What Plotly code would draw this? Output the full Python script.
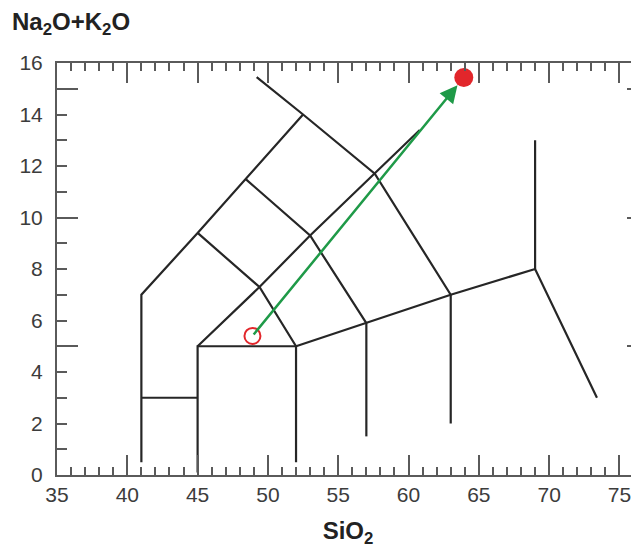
import plotly.graph_objects as go

# ---- TAS boundary polylines (SiO2 wt%, Na2O+K2O wt%) ----
outer_left_x = [41, 41, 45, 48.4, 52.5]
outer_left_y = [0.5, 7, 9.4, 11.5, 14]

phonolite_x = [49.2, 52.5, 57.6, 63, 63]
phonolite_y = [15.45, 14, 11.7, 7, 2]

picro_top_x = [41, 45]
picro_top_y = [3, 3]

basalt_x = [45, 45, 52, 52]
basalt_y = [0.1, 5, 5, 0.5]

alkali_base_x = [52, 57, 63, 69, 73.4]
alkali_base_y = [5, 5.9, 7, 8, 3.0]

andesite_x = [57, 57]
andesite_y = [5.9, 1.5]

diag_x = [45, 49.4, 53, 57.6, 60.8]
diag_y = [5, 7.3, 9.3, 11.7, 13.4]

cross1_x = [45, 49.4, 52]
cross1_y = [9.4, 7.3, 5]

cross2_x = [48.4, 53, 57]
cross2_y = [11.5, 9.3, 5.9]

rhyolite_x = [69, 69]
rhyolite_y = [8, 13]

boundaries = [
    (outer_left_x, outer_left_y), (phonolite_x, phonolite_y),
    (picro_top_x, picro_top_y), (basalt_x, basalt_y),
    (alkali_base_x, alkali_base_y), (andesite_x, andesite_y),
    (diag_x, diag_y), (cross1_x, cross1_y), (cross2_x, cross2_y),
    (rhyolite_x, rhyolite_y),
]

# ---- samples ----
start_sio2 = [48.9]
start_alk = [5.4]
end_sio2 = [63.93]
end_alk = [15.44]

x_tick_vals = [35, 40, 45, 50, 55, 60, 65, 70, 75]
y_tick_vals = [0, 2, 4, 6, 8, 10, 12, 14, 16]
y_long_ticks = [5, 10, 15]

LINE = "#262626"
AXIS = "#5a5a5a"
GREEN = "#1f9a48"
RED = "#e2262b"
LABEL = "#3c3c3c"
FONT = "Arial, Liberation Sans, sans-serif"

fig = go.Figure()
for bx, by in boundaries:
    fig.add_trace(go.Scatter(x=bx, y=by, mode="lines",
                             line=dict(color=LINE, width=2.2),
                             hoverinfo="skip", showlegend=False))

fig.add_trace(go.Scatter(x=start_sio2, y=start_alk, mode="markers",
                         marker=dict(size=16, color="rgba(0,0,0,0)",
                                     line=dict(color=RED, width=2)),
                         showlegend=False))
fig.add_trace(go.Scatter(x=end_sio2, y=end_alk, mode="markers",
                         marker=dict(size=19, color=RED, line=dict(width=0)),
                         showlegend=False))
# dummy traces to activate the extra tick axes
fig.add_trace(go.Scatter(x=[None], y=[None], yaxis="y2", showlegend=False, hoverinfo="skip"))
fig.add_trace(go.Scatter(x=[None], y=[None], yaxis="y3", showlegend=False, hoverinfo="skip"))

fig.add_annotation(x=end_sio2[0], y=end_alk[0], ax=start_sio2[0], ay=start_alk[0],
                   xref="x", yref="y", axref="x", ayref="y",
                   showarrow=True, arrowhead=2, arrowsize=1.4, arrowwidth=2.5,
                   arrowcolor=GREEN, standoff=10, text="")

# page body has an 8px margin, so the figure is sized/placed to compensate
W, H = 631, 540
fig.update_layout(
    width=W, height=H,
    margin=dict(l=49, r=0, t=55, b=73, autoexpand=False),
    paper_bgcolor="white", plot_bgcolor="white",
    font=dict(family=FONT, color=LABEL, size=21),
    title=dict(text="<b>Na<sub>2</sub>O+K<sub>2</sub>O</b>", x=4/W, xanchor="left",
               xref="container", yref="container", y=1 - 14/H, yanchor="middle",
               font=dict(family=FONT, size=24, color="#222222")),
    xaxis=dict(range=[35, 76.39], showline=True, linecolor=AXIS, linewidth=2,
               mirror="ticks", ticks="inside", tickmode="array", tickvals=x_tick_vals,
               ticklen=20, tickwidth=2, tickcolor=AXIS, automargin=False,
               minor=dict(dtick=1, tick0=35, ticks="inside", ticklen=8, tickwidth=2, tickcolor=AXIS),
               showgrid=False, zeroline=False,
               tickfont=dict(size=21, color=LABEL),
               title=dict(text="<b>SiO<sub>2</sub></b>", font=dict(size=24, color="#222222"),
                          standoff=18)),
    yaxis=dict(range=[0, 16], showline=True, linecolor=AXIS, linewidth=2, mirror=False,
               ticks="inside", tickmode="array", tickvals=y_tick_vals, automargin=False,
               ticklen=10, tickwidth=2, tickcolor=AXIS,
               minor=dict(dtick=1, tick0=0, ticks="inside", ticklen=10, tickwidth=2, tickcolor=AXIS),
               showgrid=False, zeroline=False, ticklabelstandoff=8,
               tickfont=dict(size=21, color=LABEL)),
    yaxis2=dict(range=[0, 16], overlaying="y", side="right", showline=False, automargin=False,
                ticks="inside", tickmode="linear", tick0=0, dtick=5, ticklen=12,
                tickwidth=2, tickcolor=AXIS, showticklabels=False, showgrid=False,
                zeroline=False,
                minor=dict(dtick=1, tick0=0, ticks="inside", ticklen=2, tickwidth=2, tickcolor=AXIS)),
    yaxis3=dict(range=[0, 16], overlaying="y", side="left", showline=False, automargin=False,
                ticks="inside", tickmode="array", tickvals=y_long_ticks, ticklen=21,
                tickwidth=2, tickcolor=AXIS, showticklabels=False, showgrid=False,
                zeroline=False),
)

fig.write_html("out.html")
